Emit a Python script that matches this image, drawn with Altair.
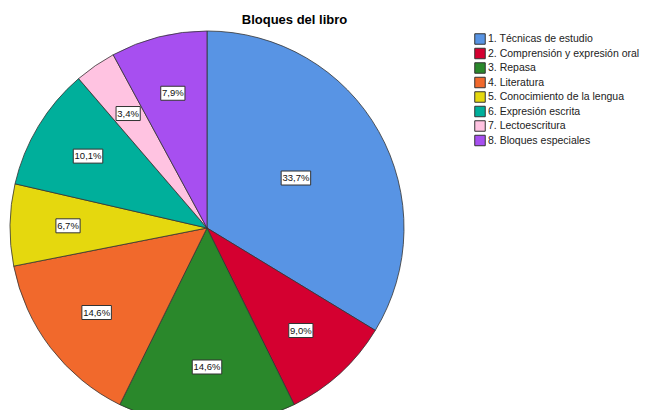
import altair as alt
import pandas as pd

title_text = "Bloques del libro"
categories = [
    "1. Técnicas de estudio",
    "2. Comprensión y expresión oral",
    "3. Repasa",
    "4. Literatura",
    "5. Conocimiento de la lengua",
    "6. Expresión escrita",
    "7. Lectoescritura",
    "8. Bloques especiales",
]
percents = [33.7, 9.0, 14.6, 14.6, 6.7, 10.1, 3.4, 7.9]
colors = ["#5894e4", "#d40030", "#2a882b", "#f1692c", "#e5d80e", "#00af9b", "#ffc3e1", "#a74ff0"]

labels = [f"{v:.1f}".replace(".", ",") + "%" for v in percents]
df = pd.DataFrame({
    "idx": list(range(len(categories))),
    "cat": categories,
    "value": percents,
    "label": labels,
})

FONT = "Liberation Sans"
CX, CY, R = 199, 220, 197

base = alt.Chart(df)

arcs = base.mark_arc(radius=R, stroke="#333333", strokeWidth=0.8).encode(
    x=alt.value(CX),
    y=alt.value(CY),
    theta=alt.Theta("value:Q", stack=True),
    order=alt.Order("idx:Q"),
    color=alt.Color(
        "cat:N",
        scale=alt.Scale(domain=categories, range=colors),
        sort=categories,
        legend=alt.Legend(
            title=None,
            orient="none",
            legendX=466,
            legendY=25,
            symbolType="square",
            symbolSize=110,
            symbolStrokeColor="#333333",
            symbolStrokeWidth=1,
            symbolOpacity=1,
            labelFont=FONT,
            labelFontSize=10.5,
            labelColor="#222222",
            labelOffset=2,
            rowPadding=-1.5,
            padding=0,
            labelLimit=300,
        ),
    ),
)

pos = (
    base.transform_window(cum="sum(value)", sort=[alt.SortField("idx")])
    .transform_joinaggregate(total="sum(value)")
    .transform_calculate(
        mid="(datum.cum - datum.value / 2) / datum.total * 2 * PI",
        lr="datum.value > 30 ? 102 : 139",
        w="length(datum.label) * 5.3 + 3",
    )
    .transform_calculate(
        lx=f"{CX} + datum.lr * sin(datum.mid)",
        ly=f"{CY} - datum.lr * cos(datum.mid)",
    )
    .transform_calculate(
        bx1="datum.lx - datum.w / 2",
        bx2="datum.lx + datum.w / 2",
        by1="datum.ly - 7",
        by2="datum.ly + 7",
    )
)

boxes = pos.mark_rect(fill="white", stroke="#333333", strokeWidth=1).encode(
    x=alt.X("bx1:Q", scale=None),
    x2="bx2:Q",
    y=alt.Y("by1:Q", scale=None),
    y2="by2:Q",
)

texts = pos.mark_text(font=FONT, fontSize=9.5, color="#111111", baseline="middle", align="center").encode(
    x=alt.X("lx:Q", scale=None),
    y=alt.Y("ly:Q", scale=None),
    text="label:N",
)

title = alt.Chart(pd.DataFrame({"t": [title_text]})).mark_text(
    font=FONT, fontSize=13, fontWeight="bold", color="#000000", align="center", baseline="alphabetic"
).encode(
    x=alt.value(286.5),
    y=alt.value(15.5),
    text="t:N",
)

chart = (
    alt.layer(arcs, boxes, texts, title)
    .properties(width=634, height=402, padding=0, autosize=alt.AutoSizeParams(type="none"))
    .configure_view(stroke=None)
)

chart.save("out.html", embed_options={"renderer": "svg", "actions": False})
